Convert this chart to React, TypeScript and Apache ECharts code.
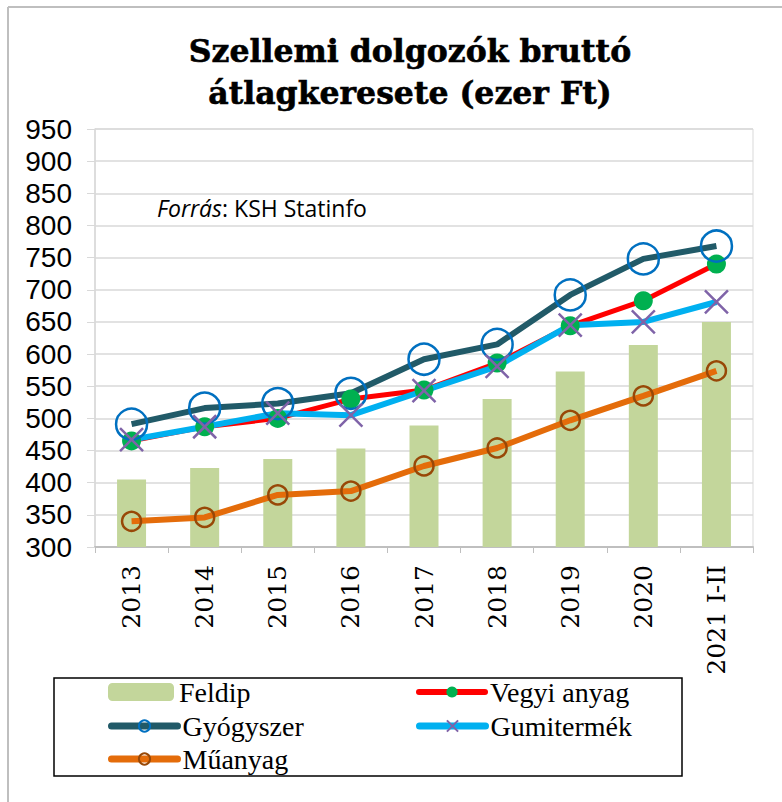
import React, { useEffect, useRef } from "react";
import * as echarts from "echarts";

const categories = ["2013", "2014", "2015", "2016", "2017", "2018", "2019", "2020", "2021 I-II"];
const feldip = [405, 423, 437, 453, 489, 530, 573, 614, 650];
const vegyi = [465, 487, 500, 530, 544, 586, 644, 683, 740];
const gyogyszer = [491, 516, 523, 539, 592, 615, 692, 748, 768];
const gumi = [467, 487, 508, 505, 543, 581, 645, 650, 681];
const muanyag = [340, 346, 381, 387, 426, 454, 497, 535, 574];
const yTicks = { min: 300, max: 950, interval: 50 };

const legendFont = { fontFamily: "Liberation Serif", fontSize: 28, color: "#000" };

export default function App() {
  const ref = useRef<HTMLDivElement>(null);
  useEffect(() => {
    if (!ref.current) return;
    const chart = echarts.init(ref.current, null, { renderer: "svg" });
    const mkLegend = (name: string, left: number, top: number, h: number, lw: number, color: string) => ({
      data: [name],
      left,
      top,
      padding: 0,
      itemWidth: 66,
      itemHeight: h,
      itemGap: 6,
      textStyle: legendFont,
      lineStyle: { width: lw, color, cap: "round" },
    });
    chart.setOption({
      animation: false,
      backgroundColor: "#fff",
      graphic: [
        {
          type: "line",
          shape: { x1: 8, y1: 7, x2: 782, y2: 7 },
          style: { stroke: "#BFBFBF", lineWidth: 2 },
        },
        {
          type: "line",
          shape: { x1: 8, y1: 7, x2: 8, y2: 802 },
          style: { stroke: "#BFBFBF", lineWidth: 2 },
        },
        {
          type: "text",
          x: 410,
          y: 29,
          style: {
            text: "Szellemi dolgozók bruttó\nátlagkeresete (ezer Ft)",
            align: "center",
            verticalAlign: "top",
            fontFamily: "DejaVu Serif",
            fontWeight: 900,
            fontSize: 31.5,
            lineHeight: 42,
            fill: "#000",
            stroke: "#000",
            lineWidth: 0.6,
          },
        },
        {
          type: "rect",
          shape: { x: 54, y: 678, width: 628, height: 98 },
          style: { fill: "none", stroke: "#000", lineWidth: 1.5 },
        },
        {
          type: "text",
          left: 157,
          top: 196,
          style: {
            text: "{i|Forrás}{n|: KSH Statinfo}",
            rich: {
              i: { fontFamily: "Open Sans", fontStyle: "italic", fontSize: 23, fill: "#000" },
              n: { fontFamily: "Open Sans", fontSize: 23, fill: "#000" },
            },
          },
        },
      ],
      legend: [
        mkLegend("Feldip", 108, 678, 18, 0, "#C3D69B"),
        mkLegend("Vegyi anyag", 416, 678, 14, 6, "#FF0000"),
        mkLegend("Gyógyszer", 108, 712, 14, 7, "#215A68"),
        mkLegend("Gumitermék", 416, 712, 14, 7, "#00B0F0"),
        mkLegend("Műanyag", 108, 745, 14, 7, "#E46C0A"),
      ],
      grid: {
        left: 95,
        right: 29,
        top: 129,
        bottom: 255,
        show: true,
        borderColor: "#D9D9D9",
        borderWidth: 1,
      },
      xAxis: {
        type: "category",
        data: categories,
        boundaryGap: true,
        axisLine: { show: true, lineStyle: { color: "#BFBFBF", width: 2 } },
        axisTick: { show: true, length: 6, lineStyle: { color: "#BFBFBF" } },
        axisLabel: {
          rotate: 90,
          margin: 18,
          fontFamily: "DejaVu Serif",
          fontSize: 25,
          color: "#000",
          interval: 0,
        },
      },
      yAxis: {
        type: "value",
        min: yTicks.min,
        max: yTicks.max,
        interval: yTicks.interval,
        axisLine: { show: true, lineStyle: { color: "#D9D9D9", width: 1.5 } },
        axisTick: { show: true, length: 8, lineStyle: { color: "#D9D9D9" } },
        splitLine: { show: true, lineStyle: { color: "#D9D9D9", width: 1.5 } },
        axisLabel: {
          margin: 23,
          fontFamily: "Liberation Sans",
          fontSize: 28,
          color: "#000",
        },
      },
      series: [
        {
          name: "Feldip",
          type: "bar",
          data: feldip,
          barWidth: 29,
          itemStyle: { color: "#C3D69B" },
        },
        {
          name: "Vegyi anyag",
          type: "line",
          data: vegyi,
          symbol: "circle",
          symbolSize: 19,
          lineStyle: { color: "#FF0000", width: 5 },
          itemStyle: { color: "#00B050" },
        },
        {
          name: "Gyógyszer",
          type: "line",
          data: gyogyszer,
          symbol: "circle",
          symbolSize: 31,
          lineStyle: { color: "#215A68", width: 6 },
          itemStyle: { color: "rgba(0,0,0,0)", borderColor: "#0070C0", borderWidth: 2.5 },
        },
        {
          name: "Gumitermék",
          type: "line",
          data: gumi,
          symbol: "path://M0,0L10,10M10,0L0,10",
          symbolSize: 23,
          lineStyle: { color: "#00B0F0", width: 6 },
          itemStyle: { color: "rgba(0,0,0,0)", borderColor: "#7F63A8", borderWidth: 2.5 },
        },
        {
          name: "Műanyag",
          type: "line",
          data: muanyag,
          symbol: "circle",
          symbolSize: 19,
          lineStyle: { color: "#E46C0A", width: 6 },
          itemStyle: { color: "rgba(0,0,0,0)", borderColor: "#984807", borderWidth: 2.5 },
        },
      ],
    });
    return () => chart.dispose();
  }, []);
  return <div ref={ref} style={{ width: 782, height: 802, position: "absolute", left: 0, top: 0 }} />;
}
